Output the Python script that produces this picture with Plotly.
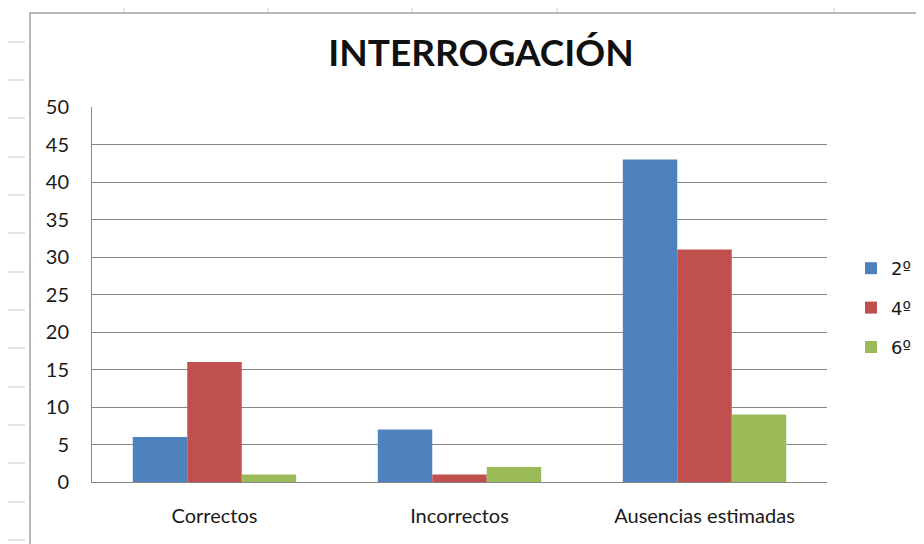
import plotly.graph_objects as go

categories = ["Correctos", "Incorrectos", "Ausencias estimadas"]
series_names = ["2º", "4º", "6º"]
values_2 = [6, 7, 43]
values_4 = [16, 1, 31]
values_6 = [1, 2, 9]
colors = ["#4F81BD", "#C0504D", "#9BBB59"]
y_ticks = [0, 5, 10, 15, 20, 25, 30, 35, 40, 45, 50]

fig = go.Figure()
for i, (name, vals) in enumerate(zip(series_names, [values_2, values_4, values_6])):
    fig.add_trace(go.Bar(
        x=categories, y=vals, name=name, legendgroup=name,
        marker=dict(color=colors[i], line=dict(width=0)),
    ))

# page is offset by the 8px body margin
OFF = 8
W, H = 924, 544
L, R, T, B = 92 - OFF, W - (827 - OFF), 107 - OFF, H - (482 - OFF)
pw, ph = W - L - R, H - T - B


def px_x(p):
    return (p - OFF - L) / pw


def px_y(p):
    return (H - B - (p - OFF)) / ph


grid_col = "#c9c9c9"
shapes = [dict(type="rect", xref="paper", yref="paper",
               x0=px_x(30), x1=px_x(940), y0=px_y(570), y1=px_y(13),
               line=dict(color="#a0a0a0", width=1.5), layer="below")]
for ry in [42, 80, 118, 157, 195, 233, 272, 310, 348, 387, 425, 463, 502, 540]:
    shapes.append(dict(type="line", xref="paper", yref="paper",
                       x0=px_x(0), x1=px_x(25), y0=px_y(ry), y1=px_y(ry),
                       line=dict(color=grid_col, width=1), layer="below"))
for cx in [124, 268, 412, 557, 834]:
    shapes.append(dict(type="line", xref="paper", yref="paper",
                       x0=px_x(cx), x1=px_x(cx), y0=px_y(0), y1=px_y(12),
                       line=dict(color=grid_col, width=1), layer="below"))

fig.update_layout(
    width=W, height=H,
    margin=dict(l=L, r=R, t=T, b=B),
    paper_bgcolor="white", plot_bgcolor="white",
    barmode="group", bargap=0.333, bargroupgap=0,
    font=dict(family="Lato, Open Sans, sans-serif", size=20, color="#1a1a1a"),
    title=dict(text="<b>INTERROGACIÓN</b>", x=px_x(481), xref="paper", xanchor="center",
               y=1 - (53 - OFF) / H, yanchor="middle",
               font=dict(size=37, color="#111111", family="Lato, sans-serif")),
    xaxis=dict(showgrid=False, showline=True, linecolor="#868686", linewidth=1,
               ticks="", tickfont=dict(size=20), ticklabelstandoff=16),
    yaxis=dict(range=[0, 50], tickvals=y_ticks, showgrid=True, gridcolor="#868686",
               gridwidth=1, showline=True, linecolor="#868686", linewidth=1,
               zeroline=False, ticks="", tickfont=dict(size=20), ticklabelstandoff=18),
    legend=dict(x=px_x(851), xanchor="left", y=px_y(308), yanchor="middle",
                traceorder="grouped", tracegroupgap=13,
                font=dict(size=18, family="DejaVu Sans, sans-serif"),
                itemwidth=30, bgcolor="rgba(0,0,0,0)"),
    shapes=shapes,
)

fig.write_html("out.html")
